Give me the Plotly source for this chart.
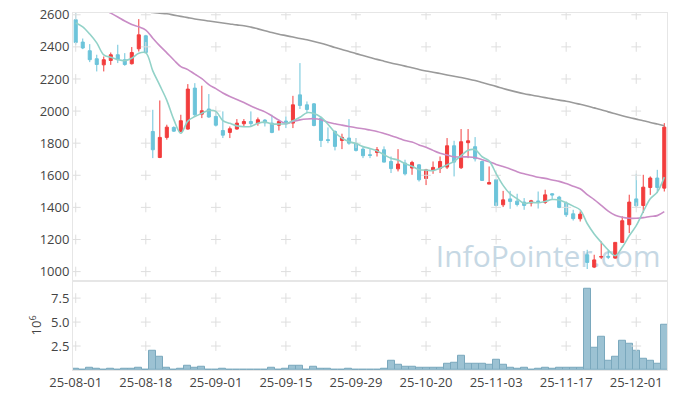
import plotly.graph_objects as go
from plotly.subplots import make_subplots
import pandas as pd

dates = [
    "2025-08-01", "2025-08-04", "2025-08-05", "2025-08-06", "2025-08-07", "2025-08-08",
    "2025-08-11", "2025-08-12", "2025-08-13", "2025-08-14",
    "2025-08-18", "2025-08-19", "2025-08-20", "2025-08-21", "2025-08-22",
    "2025-08-25", "2025-08-26", "2025-08-27", "2025-08-28", "2025-08-29",
    "2025-09-01", "2025-09-02", "2025-09-03", "2025-09-04", "2025-09-05",
    "2025-09-08", "2025-09-09", "2025-09-10", "2025-09-11", "2025-09-12",
    "2025-09-15", "2025-09-16", "2025-09-17", "2025-09-18", "2025-09-19",
    "2025-09-22", "2025-09-23", "2025-09-24", "2025-09-25", "2025-09-26",
    "2025-09-29", "2025-09-30", "2025-10-01", "2025-10-02", "2025-10-10",
    "2025-10-13", "2025-10-14", "2025-10-15", "2025-10-16", "2025-10-17",
    "2025-10-20", "2025-10-21", "2025-10-22", "2025-10-23", "2025-10-24",
    "2025-10-27", "2025-10-28", "2025-10-29", "2025-10-30", "2025-10-31",
    "2025-11-03", "2025-11-04", "2025-11-05", "2025-11-06", "2025-11-07",
    "2025-11-10", "2025-11-11", "2025-11-12", "2025-11-13", "2025-11-14",
    "2025-11-17", "2025-11-18", "2025-11-19", "2025-11-20", "2025-11-21",
    "2025-11-24", "2025-11-25", "2025-11-26", "2025-11-27", "2025-11-28",
    "2025-12-01", "2025-12-02", "2025-12-03", "2025-12-04", "2025-12-05",
]

opens = [2569, 2430, 2376, 2326, 2288, 2315, 2351, 2320, 2295, 2388,
         2469, 1873, 1711, 1836, 1898, 1873, 1888, 2143, 1981, 2013,
         1967, 1879, 1867, 1888, 1921, 1935, 1925, 1944, 1925, 1912,
         1938, 1925, 2101, 2039, 2045, 1956, 1822, 1873, 1817, 1832,
         1800, 1763, 1728, 1742, 1759, 1686, 1640, 1676, 1645, 1665,
         1580, 1632, 1642, 1651, 1784, 1647, 1803, 1778, 1686, 1545,
         1572, 1416, 1453, 1439, 1433, 1427, 1440, 1431, 1485, 1464,
         1427, 1360, 1329, 1105, 1028, 1090, 1095, 1084, 1182, 1292,
         1453, 1412, 1524, 1583, 1520]
highs = [2640, 2452, 2417, 2351, 2340, 2365, 2413, 2361, 2399, 2573,
         2475, 2008, 2066, 1915, 1905, 1977, 2168, 2174, 2158, 2106,
         1998, 1998, 1904, 1950, 1950, 1998, 1960, 1950, 1977, 1946,
         1967, 2095, 2299, 2060, 2050, 1965, 1898, 1880, 1859, 1950,
         1832, 1776, 1769, 1776, 1780, 1717, 1763, 1697, 1690, 1670,
         1640, 1686, 1717, 1832, 1815, 1888, 1888, 1838, 1690, 1655,
         1575, 1503, 1503, 1485, 1458, 1447, 1499, 1510, 1489, 1472,
         1437, 1385, 1375, 1136, 1105, 1188, 1136, 1182, 1344, 1479,
         1609, 1603, 1593, 1634, 1925]
lows = [2413, 2386, 2305, 2247, 2247, 2288, 2299, 2282, 2290, 2371,
        2362, 1707, 1707, 1822, 1870, 1870, 1884, 1967, 1956, 1958,
        1904, 1832, 1832, 1884, 1904, 1904, 1909, 1904, 1862, 1879,
        1894, 1894, 2013, 1988, 1905, 1776, 1800, 1755, 1763, 1790,
        1748, 1707, 1707, 1717, 1680, 1614, 1624, 1599, 1603, 1561,
        1539, 1609, 1614, 1639, 1593, 1639, 1707, 1686, 1565, 1545,
        1406, 1402, 1391, 1406, 1385, 1406, 1393, 1422, 1447, 1395,
        1340, 1318, 1312, 1016, 1022, 1078, 1078, 1080, 1180, 1240,
        1402, 1365, 1478, 1489, 1499]
closes = [2427, 2393, 2320, 2290, 2320, 2351, 2320, 2290, 2365, 2475,
          2365, 1759, 1836, 1900, 1875, 1940, 2137, 1977, 2002, 1963,
          1912, 1850, 1890, 1925, 1935, 1922, 1946, 1927, 1867, 1935,
          1930, 2039, 2035, 2010, 1910, 1817, 1817, 1780, 1836, 1800,
          1755, 1722, 1724, 1759, 1682, 1642, 1670, 1609, 1680, 1572,
          1634, 1649, 1686, 1784, 1682, 1809, 1815, 1703, 1568, 1555,
          1412, 1447, 1437, 1418, 1412, 1441, 1436, 1478, 1477, 1400,
          1354, 1330, 1358, 1057, 1073, 1094, 1090, 1182, 1317, 1433,
          1410, 1526, 1583, 1524, 1900]
# closes of the 19 sessions before the window (needed for the moving averages)
prior_closes = [2720, 2740, 2760, 2780, 2790, 2790, 2800, 2790, 2770, 2765,
                2780, 2790, 2770, 2760, 2769, 2510, 2545, 2565, 2695]
# volume, millions of shares
volume = [0.17, 0.07, 0.28, 0.17, 0.07, 0.17, 0.07, 0.17, 0.17, 0.28,
          0.07, 2.06, 1.43, 0.28, 0.07, 0.17, 0.49, 0.28, 0.38, 0.07,
          0.07, 0.17, 0.07, 0.0, 0.0, 0.05, 0.05, 0.05, 0.28, 0.07,
          0.17, 0.49, 0.49, 0.07, 0.38, 0.17, 0.17, 0.07, 0.07, 0.17,
          0.07, 0.07, 0.07, 0.07, 0.17, 1.01, 0.59, 0.38, 0.38, 0.28,
          0.28, 0.28, 0.28, 0.70, 0.80, 1.53, 0.70, 0.70, 0.70, 0.59,
          1.12, 0.59, 0.28, 0.17, 0.28, 0.07, 0.17, 0.28, 0.17, 0.28,
          0.28, 0.28, 0.28, 8.44, 2.27, 3.42, 0.94, 1.43, 3.00, 2.69,
          2.06, 1.22, 1.01, 0.70, 4.67]
# long moving average
ma120 = [2700, 2692, 2684, 2676, 2668, 2660, 2652, 2644, 2636, 2628,
         2621, 2614, 2610, 2606, 2598, 2590, 2582, 2574, 2567, 2561,
         2555, 2549, 2543, 2537, 2532, 2523, 2512, 2501, 2489, 2479,
         2470, 2461, 2452, 2444, 2434, 2423, 2410, 2396, 2383, 2371,
         2358, 2346, 2334, 2322, 2311, 2300, 2290, 2280, 2270, 2259,
         2250, 2242, 2234, 2225, 2217, 2209, 2200, 2190, 2178, 2166,
         2154, 2141, 2129, 2118, 2108, 2100, 2092, 2084, 2076, 2068,
         2061, 2052, 2042, 2032, 2020, 2008, 1995, 1983, 1971, 1960,
         1950, 1940, 1929, 1919, 1909]

price_ticks = [1000, 1200, 1400, 1600, 1800, 2000, 2200, 2400, 2600]
vol_ticks = [2.5, 5.0, 7.5]
x_tick_every = 10

# ---- derived ----
all_c = pd.Series(prior_closes + closes, dtype=float)
ma5 = all_c.rolling(5).mean().iloc[len(prior_closes):].tolist()
ma20 = all_c.rolling(20).mean().iloc[len(prior_closes):].tolist()
cats = [d[2:] for d in dates]
xt = cats[::x_tick_every]

RED = "#f23d3d"
BLUE = "#6cc4da"
FONT = "Open Sans"
LINEC = "#e6e6e6"

fig = make_subplots(rows=2, cols=1, shared_xaxes=True, vertical_spacing=0,
                    row_heights=[0.75, 0.25])

# grid crosses at tick intersections
gx, gy = [], []
for t in price_ticks:
    for c in xt:
        gx.append(c); gy.append(t)
vx, vy = [], []
for t in vol_ticks:
    for c in xt:
        vx.append(c); vy.append(t)
cross = dict(symbol="cross-thin", size=7, line=dict(color="#dedede", width=1))
fig.add_trace(go.Scatter(x=gx, y=gy, mode="markers", hoverinfo="skip", marker=cross),
              row=1, col=1)
fig.add_trace(go.Scatter(x=vx, y=vy, mode="markers", hoverinfo="skip", marker=cross),
              row=2, col=1)

fig.add_trace(go.Scatter(x=cats, y=ma120, mode="lines", hoverinfo="skip",
                         line=dict(color="#9a9a9a", width=1.6, shape="spline")),
              row=1, col=1)
fig.add_trace(go.Scatter(x=cats, y=ma20, mode="lines", hoverinfo="skip",
                         line=dict(color="#c98cc6", width=1.6, shape="spline")),
              row=1, col=1)
fig.add_trace(go.Scatter(x=cats, y=ma5, mode="lines", hoverinfo="skip",
                         line=dict(color="#92d2c8", width=1.6, shape="spline")),
              row=1, col=1)

fig.add_trace(go.Candlestick(
    x=cats, open=opens, high=highs, low=lows, close=closes,
    increasing=dict(line=dict(color=RED, width=1), fillcolor=RED),
    decreasing=dict(line=dict(color=BLUE, width=1), fillcolor=BLUE),
    whiskerwidth=0), row=1, col=1)

fig.add_trace(go.Bar(x=cats, y=volume,
                     marker=dict(color="#9cc2d3", line=dict(color="#7aa8bd", width=1))),
              row=2, col=1)

xr = [-0.39, len(cats) - 1 + 0.39]
fig.update_xaxes(type="category", categoryorder="array", categoryarray=cats,
                 range=xr, autorange=False, automargin=False,
                 ticklabeloverflow="allow",
                 showgrid=False, zeroline=False,
                 showline=True, linecolor=LINEC, mirror=True, ticks="",
                 tickvals=xt, ticktext=xt, rangeslider_visible=False,
                 tickfont=dict(family=FONT, size=13, color="#444"))
fig.update_xaxes(showticklabels=False, row=1, col=1)

fig.update_yaxes(range=[943, 2611], tickvals=price_ticks, showgrid=False,
                 automargin=False, ticklabeloverflow="allow",
                 zeroline=False, showline=True, linecolor=LINEC, mirror=True,
                 ticks="", tickfont=dict(family=FONT, size=13, color="#444"),
                 row=1, col=1)
fig.update_yaxes(range=[0, 9.31], tickvals=vol_ticks, tickformat=".1f",
                 automargin=False, ticklabeloverflow="allow",
                 showgrid=False, zeroline=False, showline=True, linecolor=LINEC,
                 mirror=True, ticks="",
                 tickfont=dict(family=FONT, size=13, color="#444"),
                 title=dict(text="10<sup>6</sup>", standoff=6,
                            font=dict(family=FONT, size=13, color="#444")),
                 row=2, col=1)

fig.add_shape(type="rect", xref="paper", yref="paper", x0=0.6, x1=1.0,
              y0=0.26, y1=0.37, line=dict(width=0), fillcolor="rgba(0,0,0,0)",
              layer="below",
              label=dict(text="InfoPointer.com", textposition="middle center",
                         font=dict(family=FONT, size=30, color="#c6d8e4")))

# the page body adds an 8px offset, so the margins are set relative to it
fig.update_layout(width=677, height=399, margin=dict(l=65, r=18, t=5, b=37),
                  paper_bgcolor="white", plot_bgcolor="white",
                  showlegend=False, bargap=0, boxgap=0.38,
                  font=dict(family=FONT, color="#444"))

fig.write_html("out.html")
